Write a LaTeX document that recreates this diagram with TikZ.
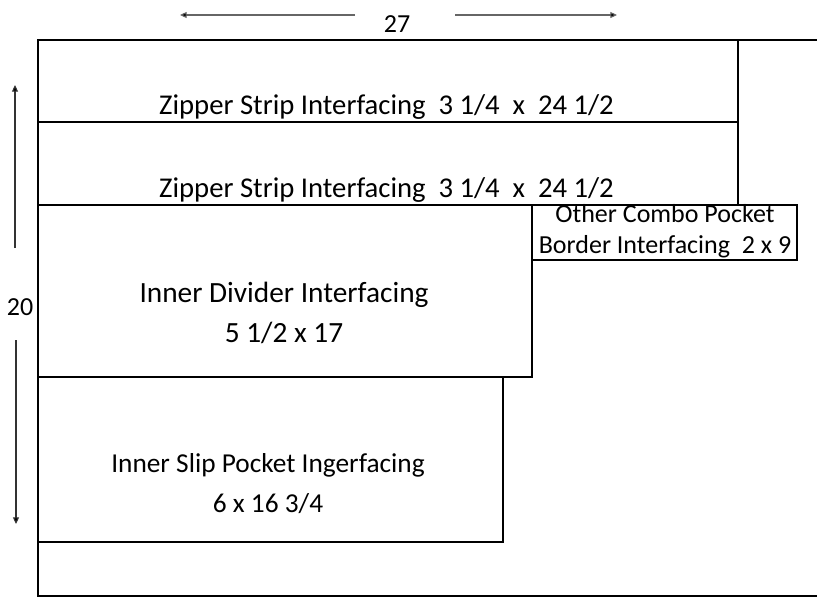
\documentclass[tikz,border=0pt]{standalone}
\usepackage{fontspec}
\setmainfont{Carlito}
\usepackage{tikz}
\usetikzlibrary{arrows.meta}

\begin{document}
\begin{tikzpicture}[x=0.75pt,y=-0.75pt,
   piece/.style={line width=1.5pt},
   dim/.style={line width=0.8pt,draw=black!60,-{Triangle[length=5pt,width=4.5pt,fill=black]}},
   bigtext/.style={font=\fontsize{21}{25}\selectfont,anchor=base},
   striptext/.style={font=\fontsize{21.5}{25}\selectfont,anchor=base},
   smalltext/.style={font=\fontsize{19.5}{22}\selectfont,anchor=base},
   dimtext/.style={font=\fontsize{19.5}{22}\selectfont,anchor=base}]
   \useasboundingbox (0,0) rectangle (817,597);
   % outer piece
   \draw[piece] (817,40) -- (38,40) -- (38,596) -- (817,596);
   % pieces
   \draw[piece] (38,40) rectangle (738,122);
   \draw[piece] (38,122) rectangle (738,205);
   \draw[piece] (532,205) rectangle (797,260);
   \draw[piece] (38,205) rectangle (532,377);
   \draw[piece] (38,377) rectangle (503,542);
   % labels
   \node[striptext] (zip1) at (386.5,114) {Zipper Strip Interfacing\ \ 3 1/4\ \ x\ \ 24 1/2};
   \node[striptext] (zip2) at (386.5,197) {Zipper Strip Interfacing\ \ 3 1/4\ \ x\ \ 24 1/2};
   \node[smalltext] (combo1) at (665,222) {Other Combo Pocket};
   \node[smalltext] (combo2) at (665,253) {Border Interfacing\ \ 2 x 9};
   \node[bigtext,font=\fontsize{22}{25}\selectfont] (div1) at (284,302) {Inner Divider Interfacing};
   \node[bigtext,font=\fontsize{22}{25}\selectfont] (div2) at (284,342) {5 1/2 x 17};
   \node[bigtext,font=\fontsize{20.5}{25}\selectfont] (slip1) at (268,472) {Inner Slip Pocket Ingerfacing};
   \node[bigtext,font=\fontsize{20.5}{25}\selectfont] (slip2) at (268,512) {6 x 16 3/4};
   % dimensions
   \node[dimtext] (width) at (397,32) {27};
   \node[dimtext] (height) at (20,315) {20};
   \coordinate (wl) at (180,15);
   \coordinate (wla) at (355,15);
   \coordinate (wra) at (455,15);
   \coordinate (wr) at (617,15);
   \coordinate (ht) at (15,85);
   \coordinate (hta) at (15,248);
   \coordinate (hba) at (16,340);
   \coordinate (hb) at (16,524);
   \draw[dim] (wla) -- (wl);
   \draw[dim] (wra) -- (wr);
   \draw[dim,draw=black!80] (hta) -- (ht);
   \draw[dim,draw=black!80] (hba) -- (hb);
\end{tikzpicture}
\end{document}
